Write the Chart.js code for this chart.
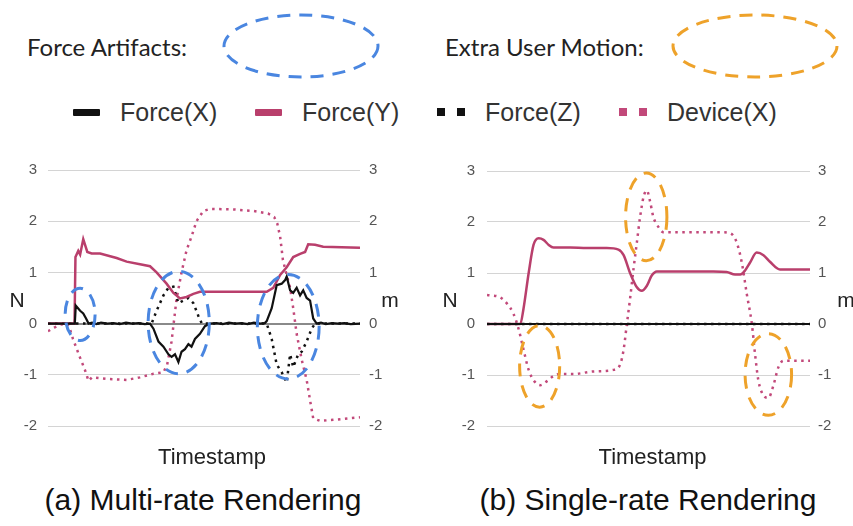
<!DOCTYPE html>
<html>
<head>
<meta charset="utf-8">
<title>Force and device traces: multi-rate vs single-rate rendering</title>
<script src="https://cdn.jsdelivr.net/npm/chart.js@4.4.1/dist/chart.umd.min.js"></script>
<style>
  html, body { margin: 0; padding: 0; background: #fff; }
  #page { position: relative; width: 853px; height: 526px; overflow: hidden;
          font-family: "Liberation Sans", Arial, sans-serif; }
  .hdr { position: absolute; font-family: Lato, "Noto Sans", sans-serif; font-size: 24px;
         color: #222; line-height: 24px; white-space: nowrap; }
  .legend-item { position: absolute; top: 97px; height: 30px; display: flex; align-items: center;
                 font-size: 25px; color: #333; white-space: nowrap; }
  .legend-item .mark { display: flex; gap: 12px; margin-right: 20px; }
  .caption { position: absolute; top: 482px; font-size: 30px; color: #111; line-height: 36px;
             white-space: nowrap; transform: translateX(-50%); }
  .chart-box { position: absolute; top: 150px; width: 425px; height: 320px; }
  svg { position: absolute; overflow: visible; }
</style>
</head>
<body>
<div id="page">
  <div class="hdr" style="left:27px; top:35px;">Force Artifacts:</div>
  <svg style="left:0; top:0;" width="853" height="100">
    <ellipse cx="301" cy="46" rx="77" ry="31" fill="none" stroke="#4a86e0" stroke-width="3" stroke-dasharray="13 9"/>
    <ellipse cx="755" cy="46" rx="82" ry="31" fill="none" stroke="#eea22a" stroke-width="3" stroke-dasharray="13 9"/>
  </svg>
  <div class="hdr" style="left:445px; top:35px;">Extra User Motion:</div>

  <div id="legend"></div>

  <div class="chart-box" style="left:0;"><canvas id="multiRate"></canvas></div>
  <div class="chart-box" style="left:428px;"><canvas id="singleRate"></canvas></div>

  <div class="caption" style="left:203px;">(a) Multi-rate Rendering</div>
  <div class="caption" style="left:648px;">(b) Single-rate Rendering</div>
</div>

<script>
// ---- Axis ticks (N on the left, m on the right, same range) ----
const yTicks = [-2, -1, 0, 1, 2, 3];

// ---- (a) Multi-rate rendering: [timestamp (0-100), value] ----
const multiForceX = [
  [0, 0], [8.6, 0], [8.9, 0.35], [10.3, 0.25], [11.3, 0.2], [12.2, 0.1], [13.0, 0.0], [14.1, 0.02],
  [15.5, -0.01], [17, 0.02], [19, 0], [21, 0.01], [23, -0.01], [25, 0.02], [27, 0], [29, 0.01],
  [31, -0.01], [32.7, 0], [33.8, -0.1], [35.4, -0.35], [37, -0.45], [38.6, -0.6], [39.6, -0.65],
  [40.7, -0.6], [41.8, -0.75], [42.8, -0.55], [43.9, -0.5], [45, -0.4], [46, -0.45], [47.1, -0.3],
  [48.7, -0.2], [50.3, -0.05], [51.9, 0], [54, 0.01], [56, -0.01], [58, 0.02], [60, 0], [62, 0.01],
  [64, -0.01], [66, 0.02], [68, 0], [69.5, 0.01], [70.1, 0.05], [71.7, 0.3], [73.3, 0.75],
  [74.9, 0.78], [76, 0.85], [76.5, 0.92], [77.6, 0.65], [78.6, 0.6], [79.7, 0.7], [80.8, 0.55],
  [81.8, 0.65], [82.9, 0.5], [84, 0.45], [85, 0.1], [86.1, 0.0], [87.5, 0.02], [89, -0.01],
  [91, 0.01], [93, 0], [95, 0.01], [97, -0.01], [100, 0]
];
const multiForceY = [
  [0, 0], [8.5, 0], [8.8, 1.3], [9.7, 1.42], [10.3, 1.35], [11.3, 1.65], [12.6, 1.4], [14.0, 1.37],
  [16.7, 1.37], [22.0, 1.28], [25.2, 1.21], [29.5, 1.16], [32.7, 1.12], [34.8, 1.0], [38.0, 0.78],
  [40.2, 0.6], [42.3, 0.49], [44.4, 0.52], [46.6, 0.58], [48.7, 0.62], [59.4, 0.62], [70.1, 0.62],
  [72.2, 0.7], [74.4, 0.95], [76.5, 1.1], [78.6, 1.3], [80.8, 1.36], [82.4, 1.4], [83.4, 1.55],
  [85.6, 1.54], [88.2, 1.5], [100, 1.48]
];
const multiForceZ = [
  [0, 0], [33.2, 0], [34.8, 0.25], [37, 0.55], [38.6, 0.7], [40.2, 0.72], [41.8, 0.4], [43.4, 0.45],
  [45, 0.5], [46.6, 0.4], [48.2, 0.15], [49.3, 0], [70.1, 0], [71.7, -0.3], [73.3, -0.8],
  [74.9, -0.95], [76.5, -1.15], [77.6, -0.6], [78.6, -0.85], [80.2, -0.6], [81.3, -0.55],
  [82.9, -0.35], [84.5, -0.1], [85.6, 0], [100, 0]
];
const multiDeviceX = [
  [0, -0.15], [2, -0.08], [4, -0.02], [6, 0], [7, -0.1], [8, -0.3], [10.3, -0.67], [11.8, -0.9],
  [13.0, -1.12], [14.1, -1.05], [18.8, -1.08], [25.2, -1.1], [29.5, -1.05], [33.8, -0.98],
  [37.0, -0.95], [38.2, -0.8], [39.6, -0.35], [41.2, 0.48], [42.8, 1.0], [44.4, 1.43], [46.0, 1.7],
  [47.6, 2.0], [49.8, 2.2], [51.9, 2.24], [59.4, 2.23], [65.8, 2.2], [70.5, 2.15], [72.5, 2.08],
  [73.5, 1.95], [74.4, 1.7], [75.3, 1.24], [76.5, 0.95], [77.6, 0.7], [78.6, 0.3], [79.7, -0.2],
  [81.3, -0.7], [82.9, -1.1], [84, -1.5], [85, -1.85], [87.2, -1.9], [91.4, -1.88], [100, -1.83]
];
// Force artifact regions: [centre t, centre value, half-width t, half-height value]
const multiArtifacts = [
  [10.3, 0.18, 4.8, 0.51],
  [41.9, 0.02, 9.8, 1.0],
  [77.0, -0.06, 9.9, 1.02]
];

// ---- (b) Single-rate rendering ----
const singleForceX = [[0, 0], [50, 0], [100, 0]];
const singleForceY = [
  [0, 0], [10.3, 0], [11.3, 0.3], [12.9, 1.0], [14.4, 1.55], [16.0, 1.68], [17.5, 1.65], [19.1, 1.55],
  [20.6, 1.5], [25.8, 1.5], [30.9, 1.49], [37.1, 1.49], [40.7, 1.46], [42.3, 1.35], [44.3, 1.0],
  [46.4, 0.72], [47.9, 0.65], [49.5, 0.75], [51.0, 0.95], [52.6, 1.03], [61.9, 1.03], [70.1, 1.03],
  [74.2, 1.02], [76.8, 0.97], [78.4, 0.97], [79.9, 1.05], [81.4, 1.2], [83.5, 1.4], [85.6, 1.35],
  [87.6, 1.22], [90.7, 1.07], [100, 1.07]
];
const singleForceZ = [[0, 0], [50, 0], [100, 0]];
const singleDeviceX = [
  [0, 0.57], [4.1, 0.52], [6.2, 0.4], [8.2, 0.2], [9.8, -0.1], [11.3, -0.5], [12.9, -0.9],
  [14.4, -1.1], [16.5, -1.2], [18.6, -1.12], [20.6, -1.02], [22.7, -0.98], [26.8, -0.98],
  [33.0, -0.93], [39.2, -0.9], [41.2, -0.8], [42.3, -0.5], [43.3, 0.0], [44.3, 0.5], [45.4, 1.1],
  [46.4, 1.6], [47.4, 2.1], [48.5, 2.5], [49.5, 2.62], [50.5, 2.4], [51.5, 2.1], [53.1, 1.9],
  [54.6, 1.8], [72.2, 1.8], [75.3, 1.78], [77.3, 1.6], [78.9, 1.2], [80.4, 0.6], [82.0, 0.0],
  [83.0, -0.6], [84.0, -1.1], [85.6, -1.4], [87.1, -1.45], [88.7, -1.2], [90.2, -0.85],
  [91.8, -0.72], [100, -0.72]
];
// Extra user motion regions
const singleMotion = [
  [16.3, -0.83, 6.2, 0.8],
  [49.3, 2.1, 6.4, 0.86],
  [87.1, -0.99, 7.2, 0.8]
];

// ---- Series styling ----
const PINK = '#b93f6c';
const PINK_DOT = '#c2497a';
const series = [
  { label: 'Force(X)', color: '#111111', width: 2.2, dash: null, axis: 'y' },
  { label: 'Force(Y)', color: PINK, width: 2.5, dash: null, axis: 'y' },
  { label: 'Force(Z)', color: '#111111', width: 2.5, dash: [2.5, 4.5], axis: 'y' },
  { label: 'Device(X)', color: PINK_DOT, width: 2.5, dash: [2.5, 4.5], axis: 'y1' }
];

// Legend built from the series styles
const legendLefts = [73, 255, 437, 619];
const legendEl = document.getElementById('legend');
series.forEach((s, i) => {
  const item = document.createElement('div');
  item.className = 'legend-item';
  item.style.left = legendLefts[i] + 'px';
  const mark = document.createElement('span');
  mark.className = 'mark';
  if (s.dash) {
    for (let k = 0; k < 2; k++) {
      const sq = document.createElement('span');
      sq.style.cssText = `display:block;width:8px;height:8px;background:${s.color}`;
      mark.appendChild(sq);
    }
  } else {
    const bar = document.createElement('span');
    bar.style.cssText = `display:block;width:27px;height:7px;border-radius:1px;background:${s.color}`;
    mark.appendChild(bar);
  }
  item.appendChild(mark);
  item.appendChild(document.createTextNode(s.label));
  legendEl.appendChild(item);
});

const toPoints = arr => arr.map(([x, y]) => ({ x, y }));

// Dashed rings, unit labels and the time axis caption
const overlayPlugin = {
  id: 'overlay',
  afterDatasetsDraw(chart, args, opts) {
    const { ctx, chartArea, scales } = chart;
    const xs = scales.x, ys = scales.y;
    ctx.save();
    ctx.lineWidth = 3;
    ctx.setLineDash([13, 9]);
    ctx.strokeStyle = opts.ringColor;
    for (const [cx, cy, rx, ry] of opts.rings) {
      const px = xs.getPixelForValue(cx), py = ys.getPixelForValue(cy);
      const prx = Math.abs(xs.getPixelForValue(cx + rx) - px);
      const pry = Math.abs(ys.getPixelForValue(cy + ry) - py);
      ctx.beginPath();
      ctx.ellipse(px, py, prx, pry, 0, 0, Math.PI * 2);
      ctx.stroke();
    }
    ctx.restore();

    ctx.save();
    ctx.fillStyle = '#222';
    ctx.textAlign = 'center';
    ctx.textBaseline = 'middle';
    ctx.font = '21px "Liberation Sans", Arial, sans-serif';
    const midY = (chartArea.top + chartArea.bottom) / 2 + 3;
    ctx.fillText('N', chartArea.left - opts.leftGap, midY);
    ctx.fillText('m', chartArea.right + opts.rightGap, midY);
    ctx.font = '22px "Liberation Sans", Arial, sans-serif';
    ctx.fillText('Timestamp', (chartArea.left + chartArea.right) / 2 + opts.titleShift, chartArea.bottom + 32);
    ctx.restore();
  }
};

function makeChart(id, data, rings, ringColor, geo) {
  const datasets = series.map((s, i) => ({
    label: s.label,
    data: toPoints(data[i]),
    borderColor: s.color,
    backgroundColor: s.color,
    borderWidth: s.width,
    borderDash: s.dash || [],
    borderCapStyle: 'butt',
    pointRadius: 0,
    tension: 0,
    cubicInterpolationMode: geo.smooth ? 'monotone' : 'default',
    yAxisID: s.axis,
    fill: false
  }));
  const tickFont = { family: '"Liberation Sans", Arial, sans-serif', size: 15 };
  return new Chart(document.getElementById(id), {
    type: 'line',
    data: { datasets },
    plugins: [overlayPlugin],
    options: {
      responsive: true,
      maintainAspectRatio: false,
      animation: false,
      layout: { padding: { top: 15, left: 0, right: 0, bottom: 0 } },
      plugins: {
        legend: { display: false },
        tooltip: { enabled: false },
        overlay: { rings, ringColor, leftGap: geo.leftGap, rightGap: geo.rightGap, titleShift: geo.titleShift }
      },
      scales: {
        x: {
          type: 'linear', min: 0, max: 100,
          grid: { display: false, drawTicks: false },
          border: { display: false },
          ticks: { display: false },
          afterFit: s => { s.height = 44; }
        },
        y: {
          position: 'left', min: -2, max: 3,
          afterBuildTicks: s => { s.ticks = yTicks.map(v => ({ value: v })); },
          ticks: { color: '#555', font: tickFont, padding: geo.leftPad },
          grid: {
            drawTicks: false,
            color: c => c.tick && c.tick.value === 0 ? '#8a8a8a' : '#d4d4d4',
            lineWidth: c => c.tick && c.tick.value === 0 ? 2 : 1
          },
          border: { display: false },
          afterFit: s => { s.width = geo.leftW; }
        },
        y1: {
          position: 'right', min: -2, max: 3,
          afterBuildTicks: s => { s.ticks = yTicks.map(v => ({ value: v })); },
          ticks: { color: '#555', font: tickFont, padding: geo.rightPad },
          grid: { drawOnChartArea: false, drawTicks: false },
          border: { display: false },
          afterFit: s => { s.width = geo.rightW; }
        }
      }
    }
  });
}

makeChart('multiRate',
  [multiForceX, multiForceY, multiForceZ, multiDeviceX],
  multiArtifacts, '#4a86e0',
  { leftW: 48, rightW: 65, leftPad: 11, rightPad: 9, leftGap: 31, rightGap: 30, titleShift: 8, smooth: false });

makeChart('singleRate',
  [singleForceX, singleForceY, singleForceZ, singleDeviceX],
  singleMotion, '#eea22a',
  { leftW: 59, rightW: 43, leftPad: 12, rightPad: 8, leftGap: 37, rightGap: 36, titleShift: 4, smooth: true });
</script>
</body>
</html>
